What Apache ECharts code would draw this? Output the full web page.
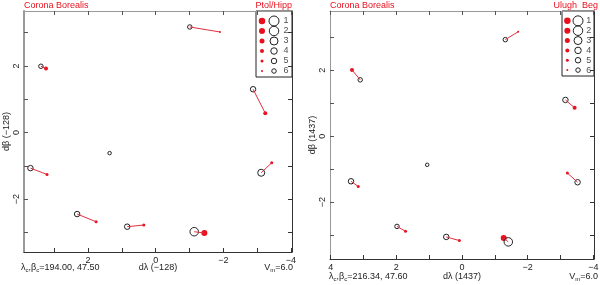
<!DOCTYPE html>
<html>
<head>
<meta charset="utf-8">
<script src="https://cdn.jsdelivr.net/npm/echarts@6/dist/echarts.min.js"></script>
<style>
  html, body { margin: 0; padding: 0; background: #fff; }
  #main { width: 600px; height: 285px; }
</style>
</head>
<body>
<div id="main"></div>
<script>
// Ptolemy (open) vs Hipparcos (red) offsets, Corona Borealis
var ptolX = [-1.01, 3.39, -2.88, 1.36, 3.70, -3.12, 2.32, 0.84, -1.14];
var ptolY = [3.17, 1.99, 1.30, -0.62, -1.07, -1.21, -2.45, -2.83, -2.98];
var ptolMag = [5, 5, 4, 6, 4, 3, 4, 4, 2];
var hippX = [-1.90, 3.24, -3.24, null, 3.21, -3.43, 1.76, 0.35, -1.44];
var hippY = [3.02, 1.92, 0.58, null, -1.26, -0.91, -2.68, -2.78, -3.02];
var hippMag = [6, 4, 4, null, 5, 5, 5, 5, 2];

// Ulugh Beg (open) vs Hipparcos (red)
var ubX = [-1.32, 3.10, -3.15, 1.06, 3.38, -3.52, 1.98, 0.48, -1.41];
var ubY = [2.93, 1.71, 1.10, -0.87, -1.37, -1.40, -2.74, -3.06, -3.21];
var ubMag = [5, 5, 4, 6, 4, 4, 5, 4, 2];
var hipp2X = [-1.71, 3.35, -3.43, null, 3.16, -3.21, 1.72, 0.08, -1.27];
var hipp2Y = [3.17, 2.01, 0.86, null, -1.53, -1.12, -2.89, -3.17, -3.09];
var hipp2Mag = [6, 4, 4, null, 5, 5, 5, 5, 2];

var magClasses = [1, 2, 3, 4, 5, 6];
var tickValues = [-4, -3, -2, -1, 0, 1, 2, 3, 4];
var labelValues = [-4, -2, 0, 2, 4];

var RED = '#e8101e';
var LINE = '#e0303f';
var FONT = 'Liberation Sans';
var openSize = [9, 8.5, 7, 5.5, 4.5, 3.5];
var fillSize = [6.5, 6, 5, 4, 3, 2];

var chart = echarts.init(document.getElementById('main'), null, { renderer: 'canvas' });

var xAxes = [], yAxes = [], series = [];

function fmt(v) { return String(v).replace('-', '\u2212'); }

function inRange(vals, lo, hi) {
  return vals.filter(function (v) { return v >= lo && v <= hi; });
}

// adds bottom/top x axes and left/right y axes for one panel, returns their indices
function panel(gi, xr, yr, xName, yName, leftLineW, xNameGap) {
  var idx = { x: xAxes.length, y: yAxes.length };
  var xt = inRange(tickValues, xr[0], xr[1]);
  var yt = inRange(tickValues, yr[0], yr[1]);
  var base = { gridIndex: gi, type: 'value', splitLine: { show: false } };
  xAxes.push(Object.assign({}, base, {
    position: 'bottom', inverse: true, min: xr[0], max: xr[1],
    axisLine: { show: true, onZero: false, lineStyle: { color: '#333', width: 1 } },
    axisTick: { show: true, inside: true, length: 4, customValues: xt, lineStyle: { color: '#333' } },
    axisLabel: { customValues: inRange(labelValues, xr[0], xr[1]), formatter: fmt, fontSize: 9, fontFamily: FONT, color: '#222', margin: 4 },
    name: xName, nameLocation: 'middle', nameGap: xNameGap, nameMoveOverlap: false,
    nameTextStyle: { fontSize: 9, fontFamily: FONT, color: '#222', verticalAlign: 'middle' }
  }));
  xAxes.push(Object.assign({}, base, {
    position: 'top', inverse: true, min: xr[0], max: xr[1],
    axisLine: { show: true, onZero: false, lineStyle: { color: '#999', width: 1 } },
    axisTick: { show: true, inside: true, length: 4, customValues: xt, lineStyle: { color: '#555' } },
    axisLabel: { show: false }
  }));
  yAxes.push(Object.assign({}, base, {
    position: 'left', min: yr[0], max: yr[1],
    axisLine: { show: true, onZero: false, lineStyle: { color: '#999', width: leftLineW } },
    axisTick: { show: true, inside: true, length: 4, customValues: yt, lineStyle: { color: '#555' } },
    axisLabel: { customValues: inRange(labelValues, yr[0], yr[1]), formatter: fmt, rotate: 90, fontSize: 9, fontFamily: FONT, color: '#222', margin: 3 },
    name: yName, nameLocation: 'middle', nameGap: 12, nameRotate: 90,
    nameTextStyle: { fontSize: 9, fontFamily: FONT, color: '#222' }
  }));
  yAxes.push(Object.assign({}, base, {
    position: 'right', min: yr[0], max: yr[1],
    axisLine: { show: true, onZero: false, lineStyle: { color: '#333', width: 1 } },
    axisTick: { show: true, inside: true, length: 4, customValues: yt, lineStyle: { color: '#333' } },
    axisLabel: { show: false }
  }));
  return idx;
}

function stars(ax, ox, oy, om, rx, ry, rm) {
  var xi = ax.x, yi = ax.y;
  for (var i = 0; i < ox.length; i++) {
    if (rx[i] == null) continue;
    series.push({
      type: 'line', xAxisIndex: xi, yAxisIndex: yi, silent: true, showSymbol: false,
      lineStyle: { color: LINE, width: 1 },
      data: [[ox[i], oy[i]], [rx[i], ry[i]]]
    });
  }
  var fills = [], opens = [];
  for (var j = 0; j < ox.length; j++) {
    opens.push([ox[j], oy[j], om[j]]);
    if (rx[j] != null) fills.push([rx[j], ry[j], rm[j]]);
  }
  series.push({
    type: 'scatter', xAxisIndex: xi, yAxisIndex: yi, silent: true,
    symbolSize: function (v) { return fillSize[v[2] - 1]; },
    itemStyle: { color: RED, opacity: 1 }, data: fills
  });
  series.push({
    type: 'scatter', xAxisIndex: xi, yAxisIndex: yi, silent: true,
    symbolSize: function (v) { return openSize[v[2] - 1]; },
    itemStyle: { color: 'rgba(0,0,0,0)', borderColor: '#222', borderWidth: 1, opacity: 1 }, data: opens
  });
}

function legendBox(gi) {
  var xi = xAxes.length, yi = yAxes.length;
  xAxes.push({ gridIndex: gi, type: 'category', data: ['f', 'o', 'n'], show: false });
  yAxes.push({ gridIndex: gi, type: 'value', min: 0, max: 6.6, inverse: true, show: false });
  series.push({
    type: 'scatter', xAxisIndex: xi, yAxisIndex: yi, silent: true,
    symbolSize: function (v) { return fillSize[v[1] - 1]; },
    itemStyle: { color: RED, opacity: 1 },
    data: magClasses.map(function (c) { return ['f', c]; })
  });
  series.push({
    type: 'scatter', xAxisIndex: xi, yAxisIndex: yi, silent: true,
    symbolSize: function (v) { return openSize[v[1] - 1] + 1; },
    itemStyle: { color: 'rgba(0,0,0,0)', borderColor: '#222', borderWidth: 1, opacity: 1 },
    data: magClasses.map(function (c) { return ['o', c]; })
  });
  series.push({
    type: 'scatter', xAxisIndex: xi, yAxisIndex: yi, silent: true, symbolSize: 1,
    itemStyle: { color: 'rgba(0,0,0,0)' },
    label: { show: true, position: 'inside', formatter: function (p) { return p.value[1]; }, fontSize: 9, fontFamily: FONT, color: '#222' },
    data: magClasses.map(function (c) { return ['n', c]; })
  });
}

// left panel: grid 0 main, grid 1 legend
var axL = panel(0, [-4.03, 3.89], [-3.59, 3.65], 'd\u03bb (\u2212128)', 'd\u03b2 (\u2212128)', 2, 16);
stars(axL, ptolX, ptolY, ptolMag, hippX, hippY, hippMag);
legendBox(1);
// right panel: grid 2 main, grid 3 legend
var axR = panel(2, [-4.02, 4.02], [-3.73, 3.80], 'd\u03bb (1437)', 'd\u03b2 (1437)', 1, 18);
stars(axR, ubX, ubY, ubMag, hipp2X, hipp2Y, hipp2Mag);
legendBox(3);

var txt = { fontSize: 9, fontFamily: FONT, fill: '#222' };
var sub = { s: { fontSize: 6, fontFamily: FONT, padding: [5, 0, 0, 0] } };

chart.setOption({
  animation: false,
  backgroundColor: '#fff',
  grid: [
    { left: 24, top: 11, width: 268, height: 241, outerBoundsMode: 'none' },
    { left: 256, top: 11, width: 36, height: 66, show: true, borderColor: '#222', borderWidth: 1, backgroundColor: '#fff', outerBoundsMode: 'none' },
    { left: 330, top: 11, width: 264, height: 248, outerBoundsMode: 'none' },
    { left: 562, top: 11, width: 32, height: 65, show: true, borderColor: '#222', borderWidth: 1, backgroundColor: '#fff', outerBoundsMode: 'none' }
  ],
  xAxis: xAxes,
  yAxis: yAxes,
  series: series,
  graphic: [
    { type: 'text', left: 24, top: 1, style: { text: 'Corona Borealis', fontSize: 9, fontFamily: FONT, fill: RED } },
    { type: 'text', right: 308, top: 1, style: { text: 'Ptol/Hipp', fontSize: 9, fontFamily: FONT, fill: RED } },
    { type: 'text', left: 330, top: 1, style: { text: 'Corona Borealis', fontSize: 9, fontFamily: FONT, fill: RED } },
    { type: 'text', right: 2, top: 1, style: { text: 'Ulugh  Beg', fontSize: 9, fontFamily: FONT, fill: RED } },
    { type: 'text', left: 21, top: 263, style: Object.assign({ text: '\u03bb{s|c},\u03b2{s|c}=194.00, 47.50', rich: sub }, txt) },
    { type: 'text', right: 307, top: 263, style: Object.assign({ text: 'V{s|m}=6.0', rich: sub }, txt) },
    { type: 'text', left: 329, top: 272, style: Object.assign({ text: '\u03bb{s|c},\u03b2{s|c}=216.34, 47.60', rich: sub }, txt) },
    { type: 'text', right: 2, top: 272, style: Object.assign({ text: 'V{s|m}=6.0', rich: sub }, txt) }
  ]
});
</script>
</body>
</html>
